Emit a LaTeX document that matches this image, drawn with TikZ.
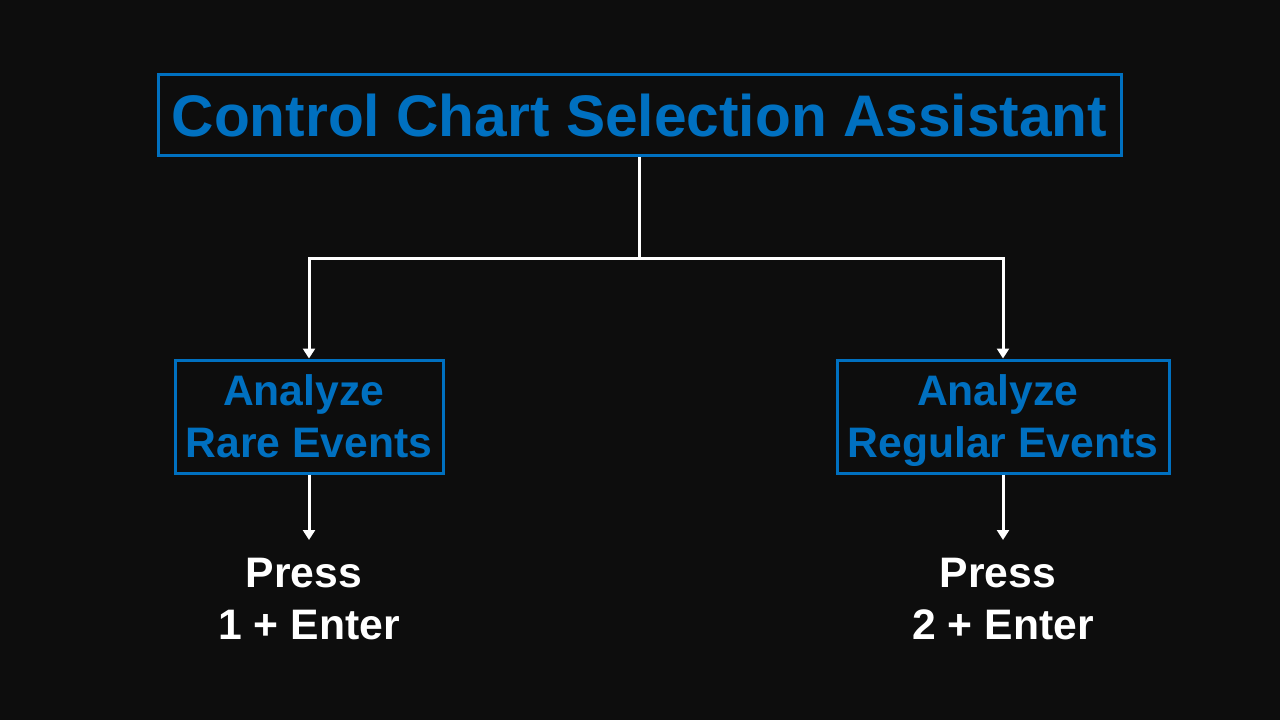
\documentclass[tikz,border=0pt]{standalone}
\usepackage{fontspec}
\setmainfont{Liberation Sans}
\usetikzlibrary{arrows.meta}
\definecolor{chartblue}{HTML}{0070C0}
\definecolor{slidebg}{HTML}{0D0D0D}

\begin{document}
\begin{tikzpicture}[x=0.75pt,y=-0.75pt,
  menubox/.style={draw=chartblue, line width=2.25pt, text=chartblue, font=\bfseries\fontsize{32}{39}\selectfont, align=center, text depth=0pt, minimum height=84.75pt, inner sep=0pt},
  link/.style={draw=white, line width=2.25pt},
  linkarrow/.style={link, -{Triangle[width=9pt,length=7.5pt]}},
  presstext/.style={text=white, font=\bfseries\fontsize{32}{39}\selectfont, align=center, inner sep=0pt, text depth=0pt, anchor=north}]
\fill[slidebg] (0,0) rectangle (1280,720);
\useasboundingbox (0,0) rectangle (1280,720);
\node[draw=chartblue, line width=2.25pt, text=chartblue, font=\bfseries\fontsize{44}{53}\selectfont, minimum width=722.25pt, minimum height=60.75pt, inner sep=0pt] (title) at (639.5,115.5) {Control Chart Selection Assistant};
\node[menubox, minimum width=201pt] (rare) at (309,416.5) {Analyze\hspace*{8pt}\\Rare Events};
\node[menubox, minimum width=249pt] (regular) at (1003,416.5) {Analyze\hspace*{8pt}\\Regular Events};
\coordinate (split) at (639.5,258);
\draw[link] (title.south) -- (split);
\draw[linkarrow] (split) -| (rare.north);
\draw[linkarrow] (split) -| (regular.north);
\node[presstext] (press1) at (309,558) {Press\hspace*{8pt}\\1 + Enter};
\node[presstext] (press2) at (1003,558) {Press\hspace*{8pt}\\2 + Enter};
\draw[linkarrow, shorten >=13.5pt] (rare.south) -- (press1.north);
\draw[linkarrow, shorten >=13.5pt] (regular.south) -- (press2.north);
\end{tikzpicture}
\end{document}
